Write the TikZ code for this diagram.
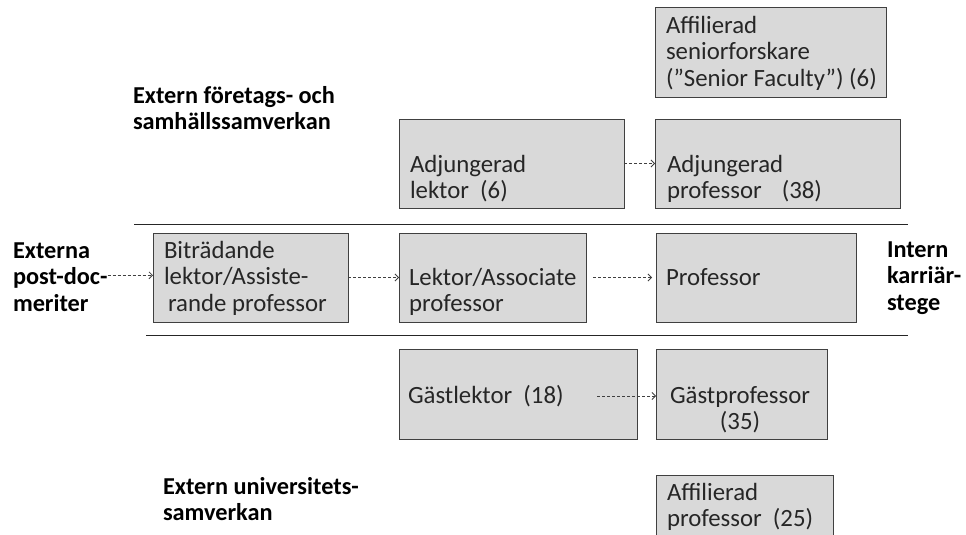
\documentclass[tikz,border=0pt]{standalone}
\usepackage{fontspec}
\setmainfont{Carlito}
\usetikzlibrary{arrows.meta}
\definecolor{boxfill}{HTML}{D9D9D9}
\definecolor{boxline}{HTML}{404040}
\definecolor{txtc}{HTML}{262626}
\begin{document}
\begin{tikzpicture}[x=1pt,y=-1pt,
  box/.style={draw=boxline, fill=boxfill, line width=0.9pt, inner sep=0pt, outer sep=0pt, anchor=north west},
  txt/.style={anchor=north west, inner sep=0pt, outer sep=0pt, align=left, text=txtc,
    font=\fontsize{24.8}{26.5}\selectfont, yshift=18.55pt},
  lbl/.style={txt, font=\fontsize{24.3}{26.5}\selectfont\bfseries, text=black},
  conn/.style={draw=boxline, line width=0.8pt, dash pattern=on 3pt off 2pt,
    -{Straight Barb[length=3.5pt,width=7pt]}},
  sep/.style={draw=black!85, line width=1pt}]
\useasboundingbox (0,0) rectangle (966,535);

% boxes
\node[box, minimum width=231pt, minimum height=90pt] (senior) at (655,7) {};
\node[box, minimum width=225pt, minimum height=89pt] (adjlek) at (399,119) {};
\node[box, minimum width=245pt, minimum height=89pt] (adjprof) at (655,119) {};
\node[box, minimum width=195pt, minimum height=89pt] (bitr) at (153,233) {};
\node[box, minimum width=187pt, minimum height=89pt] (lektor) at (399,233) {};
\node[box, minimum width=200pt, minimum height=89pt] (prof) at (656,233) {};
\node[box, minimum width=238pt, minimum height=90pt] (gastlek) at (399,349) {};
\node[box, minimum width=171pt, minimum height=90pt] (gastprof) at (656,349) {};
\node[box, minimum width=177pt, minimum height=75pt] (affprof) at (656,475) {};

% box texts
\node[txt] (tsenior) at (666,33) {\strut Affilierad\\seniorforskare\\(”Senior Faculty”) (6)};
\node[txt] (tadjlek) at (410,172) {\strut Adjungerad\\lektor~ (6)};
\node[txt] (tadjprof) at (667,172) {\strut Adjungerad\\professor\hspace{20pt}(38)};
\node[txt] (tbitr) at (164,258) {\strut Biträdande\\lektor/Assiste-\\\hspace*{4pt}rande professor};
\node[txt] (tlektor) at (409,285) {\strut Lektor/Associate\\professor};
\node[txt] (tprof) at (666,285) {\strut Professor};
\node[txt] (tgastlek) at (408,403) {\strut Gästlektor~ (18)};
\node[txt, align=center] (tgastprof) at (670,403) {\strut Gästprofessor\\(35)};
\node[txt] (taffprof) at (667,500) {\strut Affilierad\\professor~ (25)};

% labels
\node[lbl] (lfor) at (133,103) {\strut Extern företags- och\\samhällssamverkan};
\node[lbl] (luni) at (163,494) {\strut Extern universitets-\\samverkan};
\node[lbl] (lext) at (13,258) {\strut Externa\\post-doc-\\meriter};
\node[lbl] (lint) at (887,257) {\strut Intern\\karriär-\\stege};

% separators
\draw[sep] (134,224) -- (908,224);
\draw[sep] (146,335) -- (908,335);

% connectors
\draw[conn] (lext.east) -- (bitr.west |- lext.east);
\draw[conn] (bitr.east) -- (lektor.west);
\draw[conn, shorten <=7pt, shorten >=4pt] (lektor.east) -- (prof.west);
\draw[conn] (adjlek.east) -- (adjprof.west);
\coordinate (gstart) at (597,396);
\draw[conn] (gstart) -- (gastprof.west |- gstart);
\end{tikzpicture}
\end{document}
